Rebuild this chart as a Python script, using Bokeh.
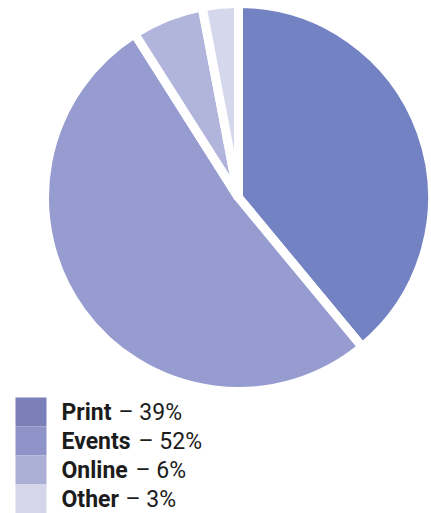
from bokeh.plotting import figure
from bokeh.models import ColumnDataSource
from bokeh.core.properties import value
from bokeh.embed import file_html
from bokeh.resources import INLINE
import numpy as np

# Share of budget by channel
categories = ["Print", "Events", "Online", "Other"]
shares = [39, 52, 6, 3]
pie_colors = ["#7382c2", "#969bd0", "#b1b5dc", "#d5d7ec"]
key_colors = ["#7b80b9", "#8e93c8", "#adb0d6", "#d5d6ea"]

W, H = 431, 513
p = figure(width=W, height=H, x_range=(0, W), y_range=(0, H),
           output_backend="svg", toolbar_location=None, min_border=0,
           outline_line_color=None)
p.axis.visible = False
p.grid.visible = False
p.background_fill_color = "white"

# Slices run clockwise from twelve o'clock
fr = np.array(shares) / sum(shares)
ends = np.pi / 2 - 2 * np.pi * np.cumsum(fr)
starts = np.concatenate([[np.pi / 2], ends[:-1]])
cx, cy = 238, H - 197
pie = ColumnDataSource(dict(start=ends, end=starts, color=pie_colors))
p.wedge(x=cx, y=cy, radius=194, radius_units="screen",
        start_angle="start", end_angle="end", source=pie,
        fill_color="color", line_color="white", line_width=9)

# Key below the pie
row_h = 29
top = H - 397
ys = [top - row_h * (i + 0.5) for i in range(len(categories))]
key = ColumnDataSource(dict(
    y=ys, color=key_colors, name=categories,
    pct=[f"\u2013 {s}%" for s in shares]))
p.rect(x=30.5, y="y", width=31, height=row_h, source=key,
       fill_color="color", line_color=None)
p.text(x=61, y="y", text="name", source=key, text_font=value("Roboto"),
       text_font_style="bold", text_font_size="23px", text_color="#1c1c1c",
       text_baseline="middle")
dash_x = [118, 138, 135, 125]
key.data["dx"] = dash_x
p.text(x="dx", y="y", text="pct", source=key, text_font=value("Roboto"),
       text_font_size="23px", text_color="#1c1c1c", text_baseline="middle")

open("out.html", "w").write(file_html(p, INLINE))
